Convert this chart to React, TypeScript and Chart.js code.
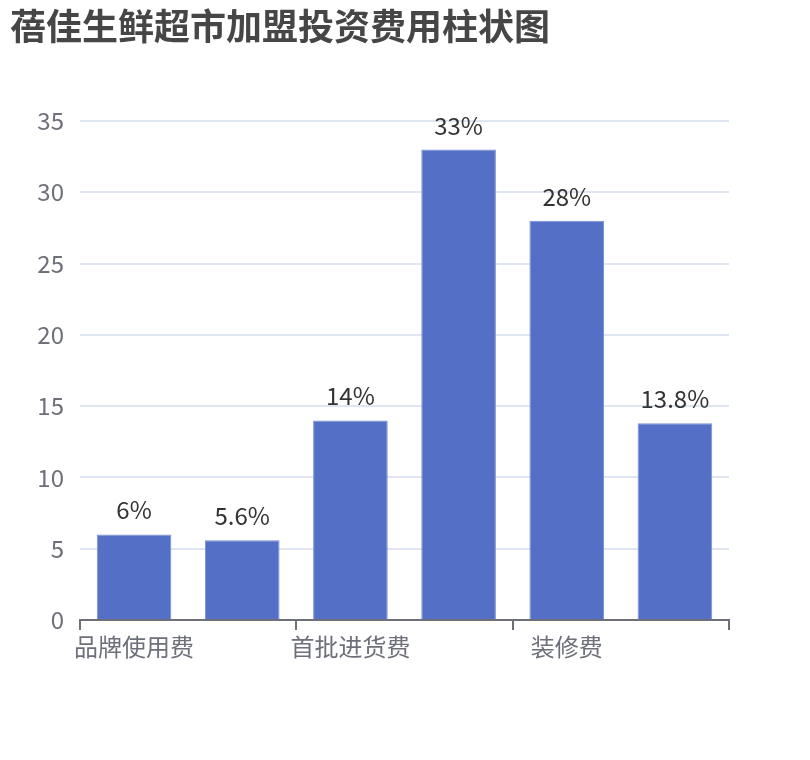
import React, { useEffect, useRef } from "react";
import { Chart, registerables } from "chart.js";

Chart.register(...registerables);

const titleText = "蓓佳生鲜超市加盟投资费用柱状图";
const categories = ["品牌使用费", "加盟费", "首批进货费", "设备费", "装修费", "其他费用"];
const values = [6, 5.6, 14, 33, 28, 13.8];
const valueLabels = ["6%", "5.6%", "14%", "33%", "28%", "13.8%"];
const yTicks = [0, 5, 10, 15, 20, 25, 30, 35];

const FONT = '"Noto Sans CJK SC", "Noto Sans", sans-serif';

const barLabelPlugin = {
  id: "barLabels",
  afterDatasetsDraw(chart: any) {
    const ctx = chart.ctx;
    const meta = chart.getDatasetMeta(0);
    ctx.save();
    ctx.font = `24px ${FONT}`;
    ctx.fillStyle = "#333333";
    ctx.textAlign = "center";
    ctx.textBaseline = "alphabetic";
    meta.data.forEach((bar: any, i: number) => {
      ctx.fillText(valueLabels[i], bar.x, bar.y - 15);
    });
    ctx.restore();
  },
};

export default function App() {
  const ref = useRef<HTMLCanvasElement>(null);
  useEffect(() => {
    if (!ref.current) return;
    const chart = new Chart(ref.current, {
      type: "bar",
      data: {
        labels: categories,
        datasets: [
          {
            data: values,
            backgroundColor: "#5470C6",
            borderColor: "#7a90d4",
            borderWidth: 1,
            categoryPercentage: 0.69,
            barPercentage: 1,
          },
        ],
      },
      plugins: [barLabelPlugin],
      options: {
        animation: false,
        responsive: true,
        maintainAspectRatio: false,
        layout: { padding: { left: 2, right: 73, top: 0, bottom: 0 } },
        plugins: {
          legend: { display: false },
          tooltip: { enabled: false },
          title: {
            display: true,
            text: titleText,
            align: "start",
            color: "#464646",
            font: { family: FONT, size: 36, weight: "bold", lineHeight: 1 },
            padding: { top: 0, bottom: 77 },
          },
        },
        scales: {
          x: {
            type: "category",
            offset: true,
            afterFit: (s: any) => {
              s.height = 132;
            },
            border: { display: true, color: "#6E7079", width: 2 },
            grid: {
              display: true,
              offset: true,
              drawOnChartArea: false,
              drawTicks: true,
              tickLength: 10,
              lineWidth: 2,
              color: (c: any) =>
                c.index === undefined || c.index % 2 === 0 ? "#6E7079" : "rgba(0,0,0,0)",
            },
            ticks: {
              autoSkip: false,
              maxRotation: 0,
              padding: 2,
              color: "#6E7079",
              font: { family: FONT, size: 24 },
              callback: (_v: any, i: number) => (i % 2 === 0 ? categories[i] : ""),
            },
          },
          y: {
            min: 0,
            max: 35,
            afterFit: (s: any) => {
              s.width = 70;
            },
            afterBuildTicks: (s: any) => {
              s.ticks = yTicks.map((v) => ({ value: v }));
            },
            border: { display: false },
            grid: {
              color: "#E0E6F1",
              lineWidth: 2,
              drawTicks: false,
            },
            ticks: {
              padding: 16,
              color: "#6E7079",
              font: { family: FONT, size: 24 },
            },
          },
        },
      },
    });
    return () => chart.destroy();
  }, []);
  return (
    <div style={{ width: 794, height: 744, position: "relative" }}>
      <canvas ref={ref} />
    </div>
  );
}
